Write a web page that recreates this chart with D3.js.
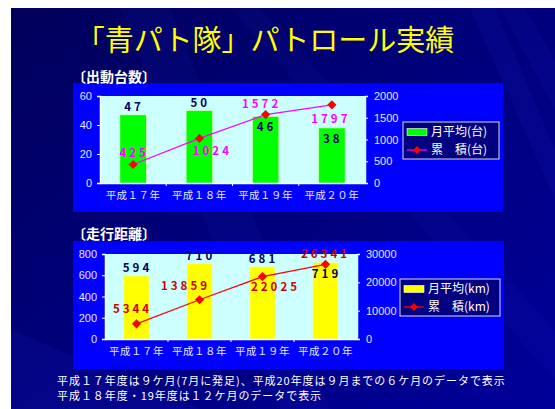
<!DOCTYPE html>
<html><head><meta charset="utf-8">
<script src="https://cdn.jsdelivr.net/npm/d3@7"></script>
<style>
html,body{margin:0;padding:0;background:#fff;}
svg{display:block;}
</style></head>
<body>
<svg id="c" width="555" height="409"></svg>
<script>
const categories = ["平成１７年","平成１８年","平成１９年","平成２０年"];
const vehicleMonthly = [47, 50, 46, 38];
const vehicleCumulative = [425, 1024, 1572, 1797];
const distanceMonthly = [594, 710, 681, 719];
const distanceCumulative = [5344, 13859, 22025, 26341];
const vehicleLeftTicks = [0, 20, 40, 60];
const vehicleRightTicks = [0, 500, 1000, 1500, 2000];
const distanceLeftTicks = [0, 200, 400, 600, 800];
const distanceRightTicks = [0, 10000, 20000, 30000];
const footnotes = [
  "平成１７年度は９ケ月(7月に発足)、平成20年度は９月までの６ケ月のデータで表示",
  "平成１８年度・19年度は１２ケ月のデータで表示"
];

const svg = d3.select("#c");
const JP = "'Noto Sans CJK JP','Noto Sans',sans-serif";
const NUM = "'Liberation Sans',Arial,sans-serif";

const defs = svg.append("defs");
const g1 = defs.append("linearGradient").attr("id","bg").attr("x1","0").attr("y1","0").attr("x2","1").attr("y2","1");
g1.append("stop").attr("offset","0").attr("stop-color","#00005a");
g1.append("stop").attr("offset","0.45").attr("stop-color","#00007a");
g1.append("stop").attr("offset","1").attr("stop-color","#00009a");
svg.append("rect").attr("x",11).attr("y",8).attr("width",544).attr("height",401).attr("fill","url(#bg)");
const streaks = [
  {pts:[[120,8],[170,8],[330,409],[280,409]], o:0.06},
  {pts:[[230,8],[260,8],[555,330],[555,380]], o:0.05},
  {pts:[[470,8],[495,8],[555,150],[555,200]], o:0.07},
  {pts:[[11,330],[11,409],[200,409]], o:0.08},
  {pts:[[500,8],[525,8],[555,60],[555,110]], o:0.06}
];
const clip = defs.append("clipPath").attr("id","slide");
clip.append("rect").attr("x",11).attr("y",8).attr("width",544).attr("height",401);
const sg = svg.append("g").attr("clip-path","url(#slide)");
streaks.forEach(s=>{
  sg.append("polygon").attr("points",s.pts.map(p=>p.join(",")).join(" "))
    .attr("fill","#3344ff").attr("opacity",s.o);
});

svg.append("text").attr("x",265).attr("y",51).attr("text-anchor","middle")
  .attr("font-family",JP).attr("font-size",29).attr("fill","#ffff00")
  .text("「青パト隊」パトロール実績");

function marker(sel, cx, cy, s){
  sel.append("rect").attr("x",-s/2).attr("y",-s/2).attr("width",s).attr("height",s)
    .attr("transform",`translate(${cx},${cy}) rotate(45)`).attr("fill","#ff0000");
}

function drawChart(cfg){
  const g = svg.append("g");
  g.append("rect").attr("x",cfg.panel[0]).attr("y",cfg.panel[1]).attr("width",cfg.panel[2]).attr("height",cfg.panel[3]).attr("fill","#0000ff");
  g.append("text").attr("x",cfg.titleX).attr("y",cfg.titleY).attr("font-family",JP).attr("font-weight","bold")
    .attr("font-size",14).attr("fill","#ffffff").text(cfg.title);
  const p = cfg.plot;
  g.append("rect").attr("x",p[0]).attr("y",p[1]).attr("width",p[2]-p[0]).attr("height",p[3]-p[1]).attr("fill","#ccffff");
  const x = d3.scaleBand().domain(categories).range([p[0],p[2]]).paddingInner(0.6).paddingOuter(0.3);
  const yL = d3.scaleLinear().domain([cfg.leftTicks[0], cfg.leftTicks[cfg.leftTicks.length-1]]).range([p[3],p[1]]);
  const yR = d3.scaleLinear().domain([cfg.rightTicks[0], cfg.rightTicks[cfg.rightTicks.length-1]]).range([p[3],p[1]]);

  const axL = g.append("g").attr("transform",`translate(${p[0]},0)`).call(d3.axisLeft(yL).tickValues(cfg.leftTicks).tickFormat(d3.format("d")).tickSize(3).tickPadding(5));
  const axR = g.append("g").attr("transform",`translate(${p[2]},0)`).call(d3.axisRight(yR).tickValues(cfg.rightTicks).tickFormat(d3.format("d")).tickSize(3).tickPadding(cfg.rightPad));
  const xb = d3.scaleBand().domain(categories).range([p[0],p[2]]);
  const axB = g.append("g").attr("transform",`translate(0,${p[3]})`).call(d3.axisBottom(xb).tickSize(0).tickPadding(9));
  g.selectAll(".sep").data(categories.slice(1)).enter().append("line")
    .attr("x1",d=>xb(d)).attr("x2",d=>xb(d)).attr("y1",p[3]).attr("y2",p[3]+3).attr("stroke","#ffffff");
  [axL,axR,axB].forEach(a=>{
    a.selectAll("path").attr("stroke","#ffffff").attr("stroke-width",1.5);
    a.selectAll("line").attr("stroke","#ffffff");
    a.selectAll("text").attr("fill","#e6e6ff").attr("font-family",NUM).attr("font-size",11);
  });
  axB.selectAll("text").attr("font-family",JP).attr("font-size",10.5).attr("letter-spacing","0.5px");
  axR.selectAll("text").attr("text-anchor","start");
  axR.select("path").attr("stroke","#ccffff");

  g.selectAll(".bar").data(cfg.bars).enter().append("rect")
    .attr("x",(d,i)=>x(categories[i])).attr("width",x.bandwidth())
    .attr("y",d=>yL(d)).attr("height",d=>p[3]-yL(d))
    .attr("fill",cfg.barColor).attr("stroke","#eeffcc").attr("stroke-width",0.6);
  g.selectAll(".blab").data(cfg.bars).enter().append("text")
    .attr("x",(d,i)=>x(categories[i])+x.bandwidth()/2+1)
    .attr("y",(d,i)=>yL(d)+(cfg.barLabelPos[i]==="above"?-4:15))
    .attr("text-anchor","middle").attr("font-family",JP).attr("font-weight","bold").attr("font-size",11.5)
    .attr("letter-spacing","3px").attr("fill","#000066").text(d=>d);

  const cx = (d,i)=>x(categories[i])+x.bandwidth()/2;
  const line = d3.line().x((d,i)=>cx(d,i)).y(d=>yR(d));
  g.append("path").datum(cfg.line).attr("d",line).attr("fill","none").attr("stroke",cfg.lineColor).attr("stroke-width",1.3);
  cfg.line.forEach((d,i)=>marker(g, cx(d,i), yR(d), 6.5));
  g.selectAll(".llab").data(cfg.line).enter().append("text")
    .attr("x",(d,i)=>cx(d,i)+cfg.lineLabelOff[i][0])
    .attr("y",(d,i)=>yR(d)+cfg.lineLabelOff[i][1])
    .attr("text-anchor","middle").attr("font-family",JP).attr("font-weight","bold").attr("font-size",11.5)
    .attr("letter-spacing","3px").attr("fill",cfg.lineLabelColor).text(d=>d);

  const L = cfg.legend;
  const r1 = L[1]+10, r2 = L[1]+L[3]-9;
  g.append("rect").attr("x",L[0]).attr("y",L[1]).attr("width",L[2]).attr("height",L[3]).attr("fill","#000080").attr("stroke","#dddddd").attr("stroke-width",1);
  g.append("rect").attr("x",L[0]+4).attr("y",r1-3.5).attr("width",20).attr("height",7).attr("fill",cfg.barColor).attr("stroke","#ffffff").attr("stroke-width",0.6);
  g.append("line").attr("x1",L[0]+4).attr("x2",L[0]+24).attr("y1",r2).attr("y2",r2).attr("stroke",cfg.lineColor).attr("stroke-width",1.3);
  marker(g, L[0]+14, r2, 5.5);
  g.append("text").attr("x",L[0]+28).attr("y",r1).attr("dy","0.35em").attr("font-family",JP).attr("font-size",12).attr("fill","#ffffff").text(cfg.legendText[0]);
  g.append("text").attr("x",L[0]+28).attr("y",r2).attr("dy","0.35em").attr("font-family",JP).attr("font-size",12).attr("fill","#ffffff").text(cfg.legendText[1]);
}

drawChart({
  panel:[73,83,430,129], title:"〔出動台数〕", titleX:72, titleY:82,
  plot:[100,96,365,183],
  leftTicks:vehicleLeftTicks, rightTicks:vehicleRightTicks, rightPad:6,
  bars:vehicleMonthly, barColor:"#00ff00", barLabelPos:["above","above","inside","inside"],
  line:vehicleCumulative, lineColor:"#ff00ff", lineLabelColor:"#ff00ff",
  lineLabelOff:[[1,-8],[13,17],[-4,-7],[-1,18]],
  legend:[403,122,96,37], legendText:["月平均(台)","累　積(台)"]
});
drawChart({
  panel:[73,241,431,128], title:"〔走行距離〕", titleX:72, titleY:239,
  plot:[105,254,357,339],
  leftTicks:distanceLeftTicks, rightTicks:distanceRightTicks, rightPad:6,
  bars:distanceMonthly, barColor:"#ffff00", barLabelPos:["above","above","above","inside"],
  line:distanceCumulative, lineColor:"#ff0000", lineLabelColor:"#cc0000",
  lineLabelOff:[[-4,-11],[-14,-10],[13,14],[0,-6]],
  legend:[400,279,100,37], legendText:["月平均(km)","累　積(km)"]
});

svg.selectAll(".fn").data(footnotes).enter().append("text")
  .attr("x",57).attr("y",(d,i)=>385+i*15)
  .attr("font-family",JP).attr("font-size",11).attr("letter-spacing","0.95px").attr("fill","#ffffff").text(d=>d);
</script>
</body></html>
